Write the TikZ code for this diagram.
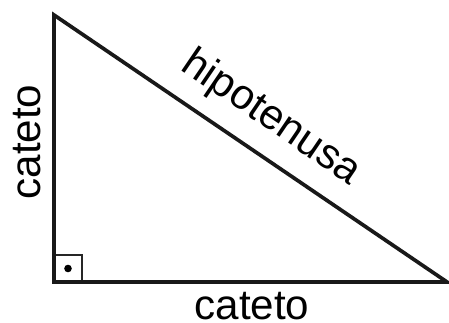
\documentclass[tikz,border=0pt]{standalone}
\usepackage{fontspec}
\setmainfont{Liberation Sans}
\usetikzlibrary{positioning, calc}

\begin{document}
\begin{tikzpicture}[
  x=0.02cm, y=0.02cm,
  font=\fontsize{24pt}{28pt}\selectfont,
  %--- styles ---
  side/.style={
    draw=black!90, line width=2.1pt, line join=miter
  },
  rightmark/.style={
    draw=black!85, line width=0.9pt
  },
  lbl/.style={
    inner sep=0pt, text=black
  }
]

%------------------------------------------------------------------
%  Canvas
%------------------------------------------------------------------
\useasboundingbox (0,0) rectangle (449,323);

%------------------------------------------------------------------
%  Vertices
%------------------------------------------------------------------
\coordinate (top)   at (54,308);
\coordinate (right) at (54,41);
\coordinate (far)   at (447,41);

%------------------------------------------------------------------
%  Right angle mark
%------------------------------------------------------------------
\draw[rightmark] (right) rectangle ++(28,27);
\fill[black] ($(right)+(14,13.5)$) circle (3.8);

%------------------------------------------------------------------
%  Triangle
%------------------------------------------------------------------
\draw[side] (top) -- (right) -- (far) -- cycle;

%------------------------------------------------------------------
%  Labels
%------------------------------------------------------------------
\node[lbl, rotate=90] (legA) at (27.5,181) {cateto};
\node[lbl] (legB) at (252,17) {cateto};
\path (top) -- (far)
  node[midway, sloped, above, inner sep=0.33cm] (hyp) {hipotenusa};

\end{tikzpicture}
\end{document}
